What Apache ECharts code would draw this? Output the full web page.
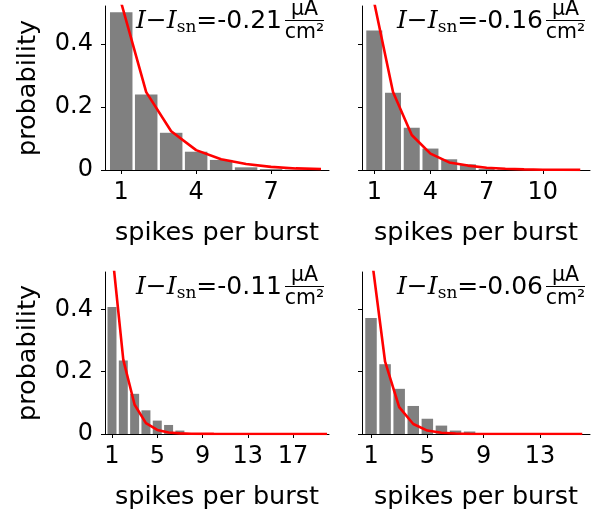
<!DOCTYPE html>
<html>
<head>
<meta charset="utf-8">
<script src="https://cdn.jsdelivr.net/npm/echarts@6/dist/echarts.min.js"></script>
<style>
  html, body { margin: 0; padding: 0; background: #fff; }
  #chart { width: 609px; height: 517px; }
</style>
</head>
<body>
<div id="chart"></div>
<script>
// current offsets shown in the panel annotations
const offsets = ["-0.21", "-0.16", "-0.11", "-0.06"];

// histogram of spikes per burst (x = 1, 2, 3, ...)
const bars1 = [0.50, 0.239, 0.118, 0.058, 0.032, 0.0085, 0.003, 0.001];
const bars2 = [0.442, 0.245, 0.134, 0.068, 0.034, 0.018, 0.004, 0.002];
const bars3 = [0.408, 0.236, 0.129, 0.076, 0.043, 0.029, 0.011, 0.003];
const bars4 = [0.372, 0.224, 0.145, 0.090, 0.049, 0.027, 0.011, 0.008];

// red fitted curve (x = 1, 2, 3, ...)
const fit1 = [0.53, 0.247, 0.123, 0.063, 0.034, 0.019, 0.010, 0.005, 0.003];
const fit2 = [0.53, 0.247, 0.111, 0.052, 0.024, 0.014, 0.007, 0.004, 0.002, 0.001, 0.001, 0.0005];
const fit3 = [0.59, 0.238, 0.094, 0.035, 0.013, 0.005, 0.002, 0.001, 0.0005, 0.0003, 0.0002, 0.0001,
              0.0001, 0, 0, 0, 0, 0, 0, 0];
const fit4 = [0.583, 0.232, 0.086, 0.032, 0.011, 0.004, 0.0015, 0.0005, 0.0002, 0.0001, 0, 0, 0, 0, 0, 0];

// tick labels
const xTicks1 = [1, 4, 7];
const xTicks2 = [1, 4, 7, 10];
const xTicks3 = [1, 5, 9, 13, 17];
const xTicks4 = [1, 5, 9, 13];
const yTicks = [0, 0.2, 0.4];

const panels = [
  { left: 105, top: 6, width: 224, height: 164, xMin: 0.35, xMax: 9.32, barW: 22.5, bars: bars1, fit: fit1, ticks: xTicks1, yLabels: true },
  { left: 362, top: 6, width: 228, height: 164, xMin: 0.344, xMax: 12.52, barW: 16, bars: bars2, fit: fit2, ticks: xTicks2, yLabels: false },
  { left: 105, top: 272, width: 224, height: 162, xMin: 0.383, xMax: 20.17, barW: 9, bars: bars3, fit: fit3, ticks: xTicks3, yLabels: true },
  { left: 362, top: 272, width: 228, height: 162, xMin: 0.36, xMax: 16.55, barW: 11.5, bars: bars4, fit: fit4, ticks: xTicks4, yLabels: false }
];

const black = "#000";
const sans = "DejaVu Sans";
const axisLine = { show: true, onZero: false, lineStyle: { color: black, width: 1 } };

const grid = [], xAxis = [], yAxis = [], series = [], graphic = [];

panels.forEach((p, i) => {
  grid.push({ left: p.left, top: p.top, width: p.width, height: p.height, containLabel: false });

  xAxis.push({
    gridIndex: i,
    type: "value",
    min: p.xMin,
    max: p.xMax,
    axisLine: axisLine,
    axisTick: { show: true, length: 4, customValues: p.ticks, lineStyle: { color: black } },
    axisLabel: { customValues: p.ticks, fontSize: 24, color: black, fontFamily: sans, margin: 11 },
    splitLine: { show: false },
    name: "spikes per burst",
    nameLocation: "middle",
    nameGap: 50,
    nameTextStyle: { fontSize: 25.5, color: black, fontFamily: sans }
  });

  yAxis.push({
    gridIndex: i,
    type: "value",
    min: 0,
    max: 0.52,
    axisLine: axisLine,
    axisTick: { show: true, length: 4, customValues: yTicks, lineStyle: { color: black } },
    axisLabel: {
      show: p.yLabels,
      customValues: yTicks,
      fontSize: 24,
      color: black,
      fontFamily: sans,
      margin: 12,
      formatter: (v) => (v === 0 ? "0" : v.toFixed(1))
    },
    splitLine: { show: false },
    name: p.yLabels ? "probability" : "",
    nameLocation: "middle",
    nameGap: 64,
    nameRotate: 90,
    nameTextStyle: { fontSize: 25.5, color: black, fontFamily: sans }
  });

  series.push({
    type: "bar",
    xAxisIndex: i,
    yAxisIndex: i,
    data: p.bars.map((v, k) => [k + 1, v]),
    barWidth: p.barW,
    itemStyle: { color: "#808080" },
    silent: true
  });

  series.push({
    type: "line",
    xAxisIndex: i,
    yAxisIndex: i,
    data: p.fit.map((v, k) => [k + 1, v]),
    symbol: "none",
    clip: true,
    lineStyle: { color: "#ff0000", width: 2.6 },
    silent: true
  });

  // annotation  I - I_sn = value  uA/cm^2
  const R = p.left + p.width;
  const T = p.top;
  graphic.push({
    type: "text",
    x: R - 47,
    y: T,
    style: {
      text: "{i|I}{m|\u2212}{i|I}{s|sn}{n|=" + offsets[i] + "}",
      align: "right",
      verticalAlign: "top",
      fill: black,
      rich: {
        i: { fontFamily: "DejaVu Serif", fontStyle: "italic", fontSize: 25, lineHeight: 30, verticalAlign: "middle" },
        m: { fontFamily: "DejaVu Serif", fontSize: 25, lineHeight: 30, verticalAlign: "middle" },
        s: { fontFamily: "DejaVu Serif", fontSize: 17, lineHeight: 15, verticalAlign: "bottom" },
        n: { fontFamily: sans, fontSize: 25, lineHeight: 30, verticalAlign: "middle" }
      }
    }
  });
  graphic.push({
    type: "text",
    x: R - 24.5,
    y: T + 4,
    style: { text: "\u00b5A", fontFamily: sans, fontSize: 20.5, fill: black, align: "center", verticalAlign: "middle" }
  });
  graphic.push({
    type: "text",
    x: R - 24.5,
    y: T + 27,
    style: { text: "cm\u00b2", fontFamily: sans, fontSize: 20.5, fill: black, align: "center", verticalAlign: "middle" }
  });
  graphic.push({
    type: "line",
    shape: { x1: R - 44, y1: T + 14.5, x2: R - 5, y2: T + 14.5 },
    style: { stroke: black, lineWidth: 1 }
  });
});

const chart = echarts.init(document.getElementById("chart"));
chart.setOption({
  animation: false,
  backgroundColor: "#fff",
  grid: grid,
  xAxis: xAxis,
  yAxis: yAxis,
  series: series,
  graphic: graphic
});
</script>
</body>
</html>
